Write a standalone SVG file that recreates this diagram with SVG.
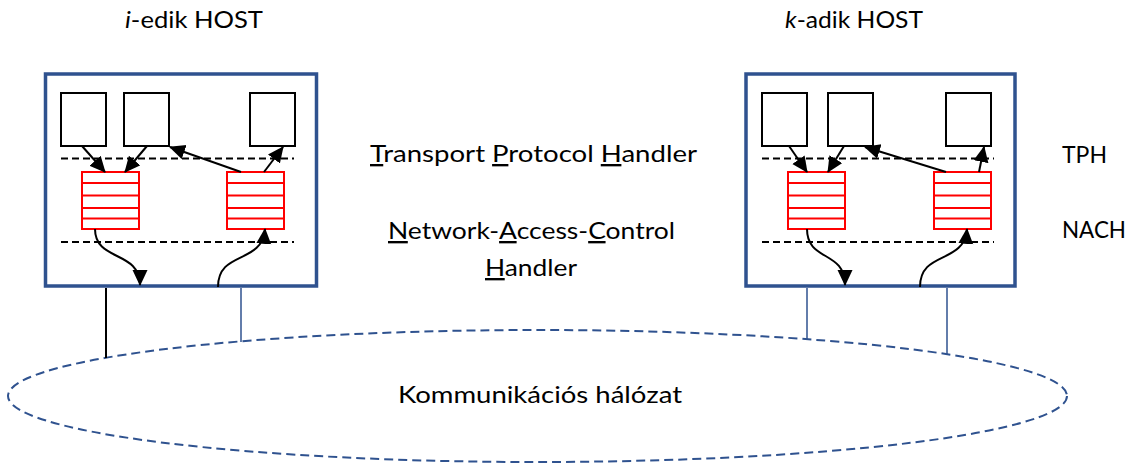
<svg xmlns="http://www.w3.org/2000/svg" width="1131" height="464" viewBox="0 0 1131 464">
<style>
text{font-family:Lato,"Liberation Sans",sans-serif;font-size:23.5px;fill:#000}
.host{fill:#fff;stroke:#2F528F;stroke-width:3.5}
.app{fill:#fff;stroke:#000;stroke-width:2}
.q{fill:#fff;stroke:#FF0000;stroke-width:2}
.ql{stroke:#FF0000;stroke-width:2}
.dash{stroke:#000;stroke-width:2;stroke-dasharray:7 4;fill:none}
.arr{stroke:#000;stroke-width:2;fill:none;marker-end:url(#ah)}
.link{stroke:#2F528F;stroke-width:1.5}
.net{fill:none;stroke:#2F528F;stroke-width:2;stroke-dasharray:9 5}
.u{text-decoration:underline}
</style>
<defs>
<marker id="ah" markerUnits="userSpaceOnUse" markerWidth="18" markerHeight="16" refX="15" refY="7.5" orient="auto">
<path d="M0,0 L16,7.5 L0,15 Z" fill="#000"/>
</marker>
</defs>

<g id="network">
<ellipse class="net" cx="537.5" cy="396" rx="529.5" ry="66"/>
<text x="540" y="403" text-anchor="middle" textLength="284" lengthAdjust="spacingAndGlyphs">Kommunikációs hálózat</text>
</g>

<g id="host-i">
<text x="194" y="28" text-anchor="middle" textLength="138" lengthAdjust="spacingAndGlyphs"><tspan font-style="italic">i</tspan>-edik HOST</text>
<rect class="host" x="45.5" y="74" width="271" height="212"/>
<rect id="app-i-1" class="app" x="61" y="93" width="45" height="53"/>
<rect id="app-i-2" class="app" x="124" y="93" width="45" height="53"/>
<rect id="app-i-3" class="app" x="250" y="93" width="45" height="53"/>
<line class="dash" x1="61" y1="158.5" x2="294" y2="158.5"/>
<line class="dash" x1="61" y1="242" x2="294" y2="242"/>
<g id="queue-i-out">
<rect class="q" x="82" y="172" width="57" height="57"/>
<line class="ql" x1="82" y1="183" x2="139" y2="183"/>
<line class="ql" x1="82" y1="195.5" x2="139" y2="195.5"/>
<line class="ql" x1="82" y1="208" x2="139" y2="208"/>
<line class="ql" x1="82" y1="218.5" x2="139" y2="218.5"/>
</g>
<g id="queue-i-in">
<rect class="q" x="227" y="172" width="57" height="57"/>
<line class="ql" x1="227" y1="183" x2="284" y2="183"/>
<line class="ql" x1="227" y1="195.5" x2="284" y2="195.5"/>
<line class="ql" x1="227" y1="208" x2="284" y2="208"/>
<line class="ql" x1="227" y1="218.5" x2="284" y2="218.5"/>
</g>
</g>

<g id="host-k">
<text x="854" y="28" text-anchor="middle" textLength="138" lengthAdjust="spacingAndGlyphs"><tspan font-style="italic">k</tspan>-adik HOST</text>
<rect class="host" x="746" y="74" width="269" height="212"/>
<rect id="app-k-1" class="app" x="762" y="93" width="45" height="53"/>
<rect id="app-k-2" class="app" x="828" y="93" width="45" height="53"/>
<rect id="app-k-3" class="app" x="946" y="93" width="45" height="53"/>
<line class="dash" x1="762" y1="158.5" x2="994" y2="158.5"/>
<line class="dash" x1="762" y1="242" x2="994" y2="242"/>
<g id="queue-k-out">
<rect class="q" x="788" y="172" width="57" height="57"/>
<line class="ql" x1="788" y1="183" x2="845" y2="183"/>
<line class="ql" x1="788" y1="195.5" x2="845" y2="195.5"/>
<line class="ql" x1="788" y1="208" x2="845" y2="208"/>
<line class="ql" x1="788" y1="218.5" x2="845" y2="218.5"/>
</g>
<g id="queue-k-in">
<rect class="q" x="934" y="172" width="57" height="57"/>
<line class="ql" x1="934" y1="183" x2="991" y2="183"/>
<line class="ql" x1="934" y1="195.5" x2="991" y2="195.5"/>
<line class="ql" x1="934" y1="208" x2="991" y2="208"/>
<line class="ql" x1="934" y1="218.5" x2="991" y2="218.5"/>
</g>
</g>

<g id="labels">
<text x="370" y="162" textLength="327" lengthAdjust="spacingAndGlyphs"><tspan class="u">T</tspan>ransport <tspan class="u">P</tspan>rotocol <tspan class="u">H</tspan>andler</text>
<text x="388" y="239" textLength="287" lengthAdjust="spacingAndGlyphs"><tspan class="u">N</tspan>etwork-<tspan class="u">A</tspan>ccess-<tspan class="u">C</tspan>ontrol</text>
<text x="485" y="276" textLength="92" lengthAdjust="spacingAndGlyphs"><tspan class="u">H</tspan>andler</text>
<text x="1062" y="163" textLength="45" lengthAdjust="spacingAndGlyphs">TPH</text>
<text x="1062" y="238" textLength="64" lengthAdjust="spacingAndGlyphs">NACH</text>
</g>

<g id="connectors">
<path class="arr" d="M82,146 L105,172"/>
<path class="arr" d="M147,146 L125,172"/>
<path class="arr" d="M241,172 L170,147"/>
<path class="arr" d="M264,172 L283,147"/>
<path class="arr" d="M95,229 C95,262 140,250 140,285"/>
<path class="arr" d="M218,287 C218,250 262,265 265,229"/>
<path class="arr" d="M789,146 L807,172"/>
<path class="arr" d="M844,146 L828,172"/>
<path class="arr" d="M946,172 L865,147"/>
<path class="arr" d="M979,172 L984,147"/>
<path class="arr" d="M807,229 C807,262 845,250 845,285"/>
<path class="arr" d="M920,287 C920,250 964,265 967,229"/>
<line x1="106" y1="288" x2="106" y2="358" stroke="#000" stroke-width="2"/>
<line class="link" x1="241" y1="288" x2="241" y2="342"/>
<line class="link" x1="807" y1="288" x2="807" y2="339"/>
<line class="link" x1="947" y1="288" x2="947" y2="355"/>
</g>
</svg>
